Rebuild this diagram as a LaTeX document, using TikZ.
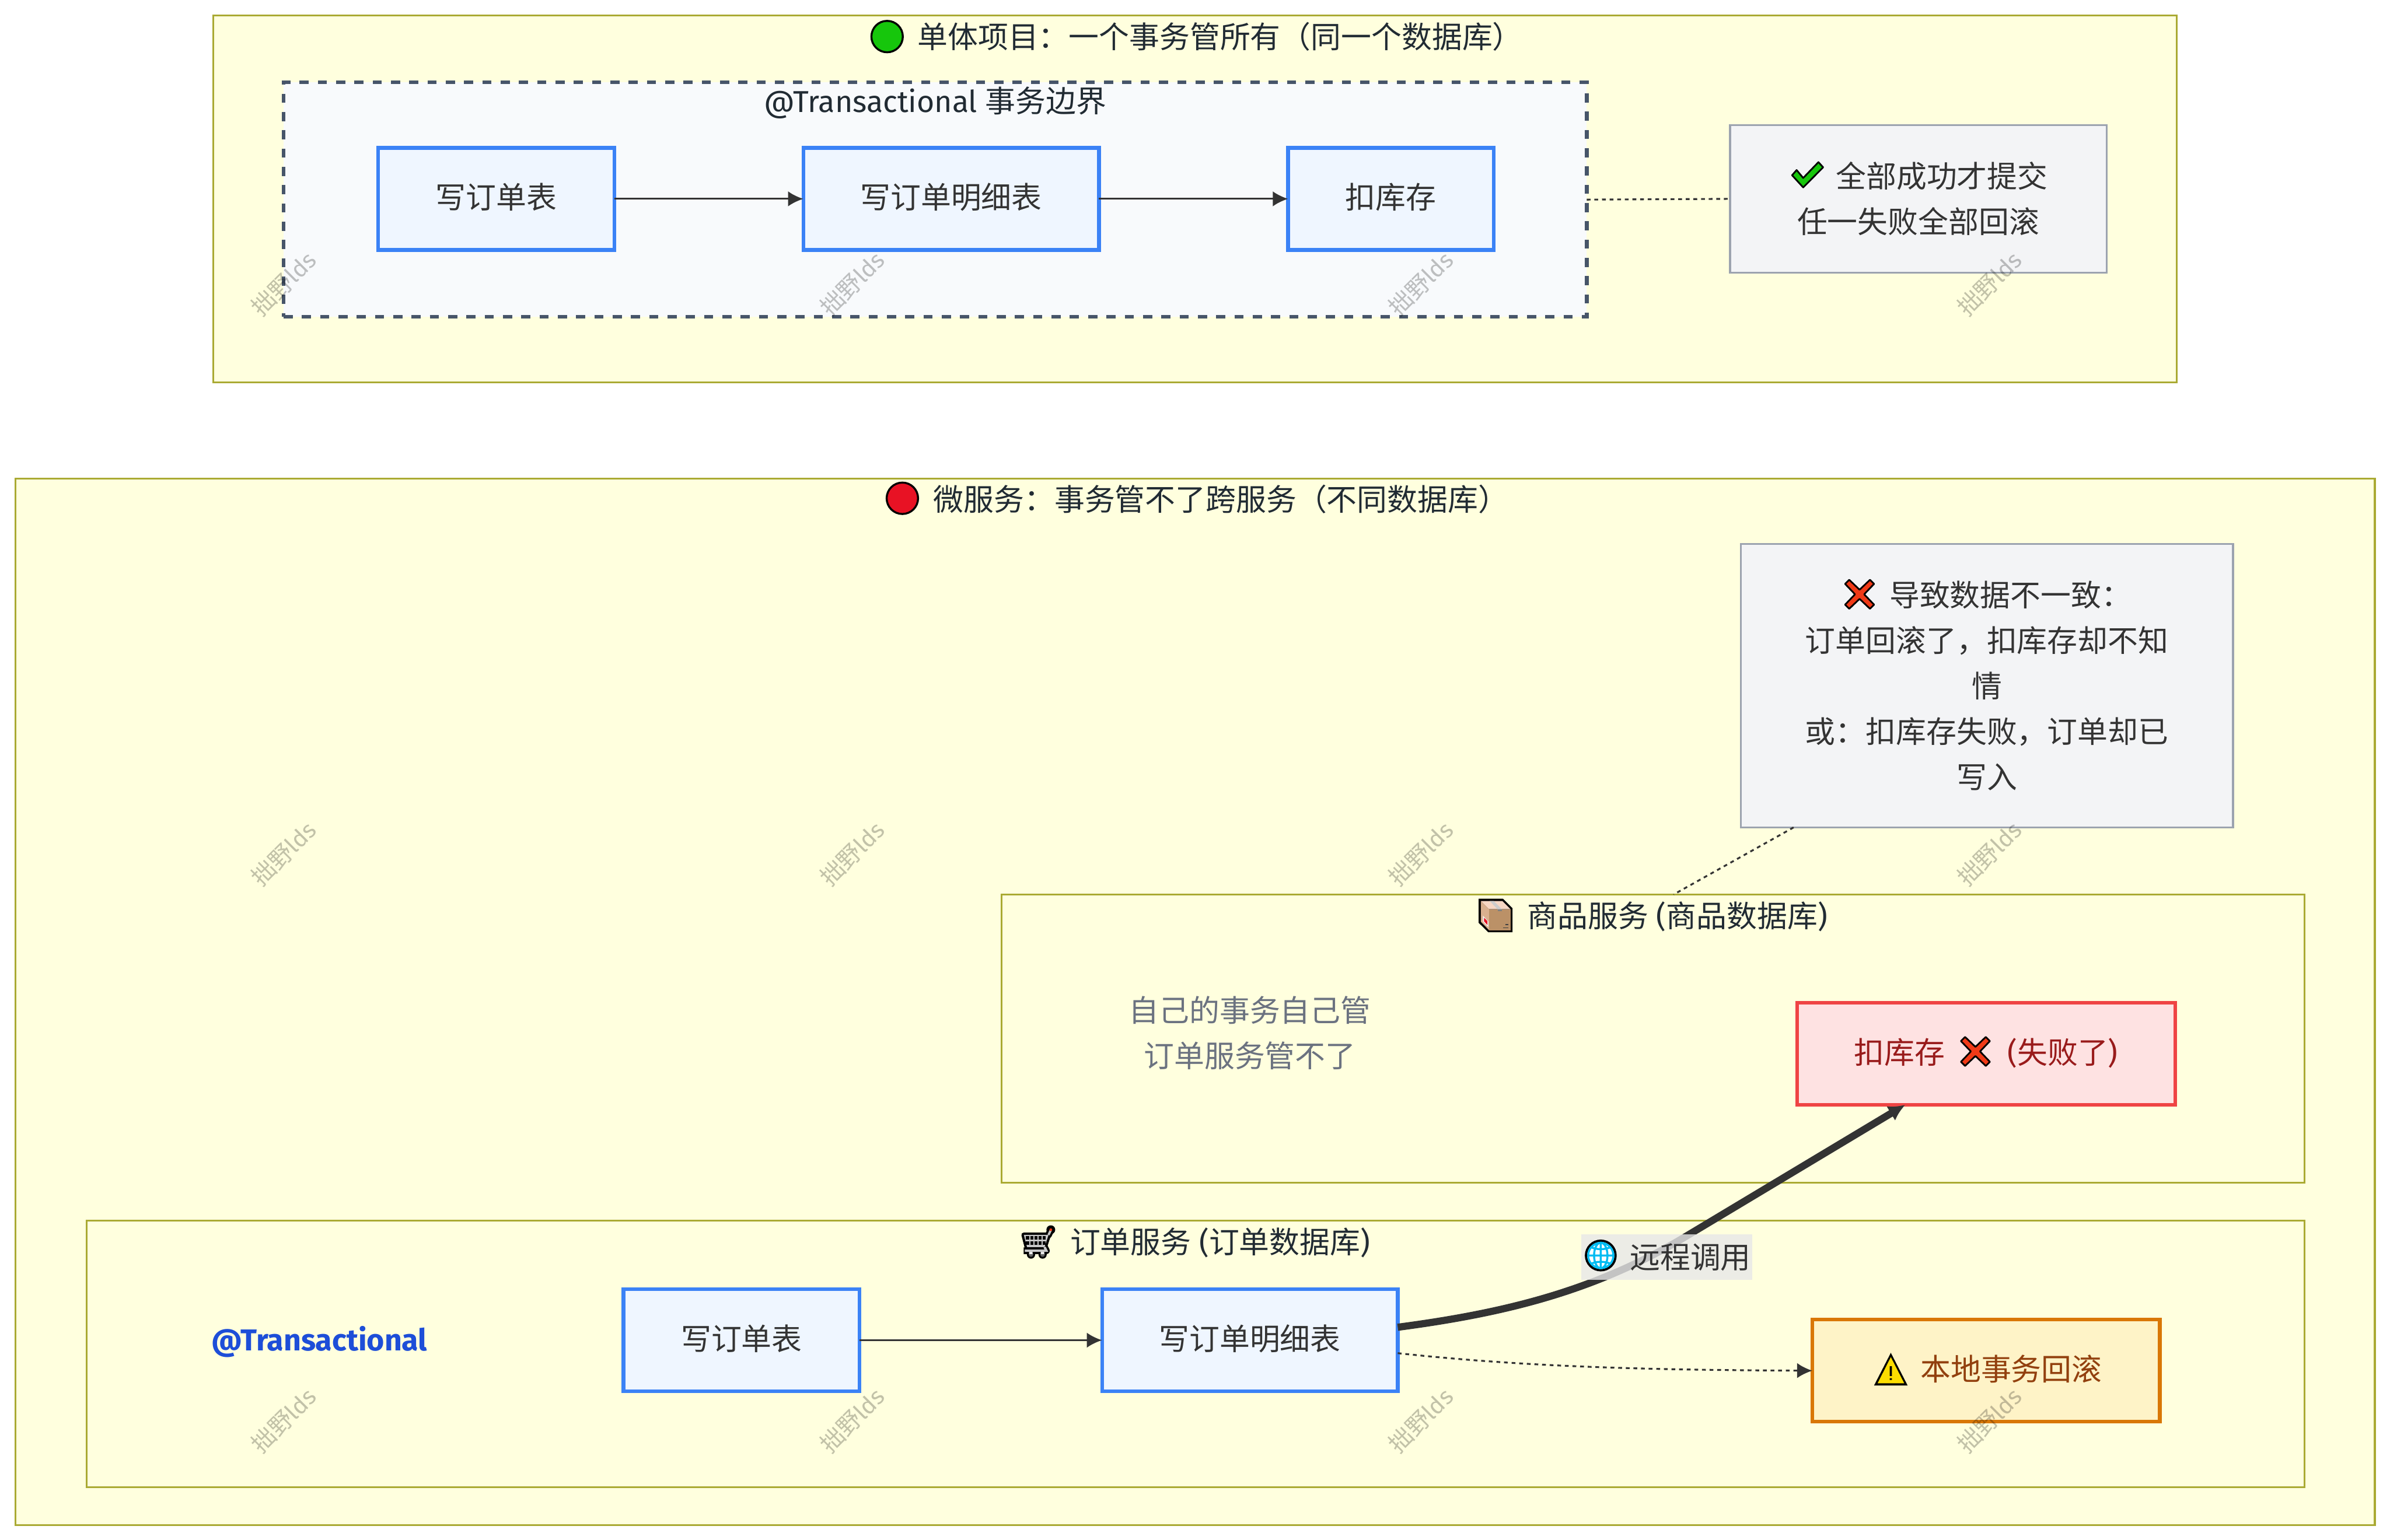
\documentclass[tikz,border=0pt]{standalone}
\usepackage{fontspec}
\setmainfont{Noto Sans CJK SC}
\newfontfamily\lat{Fira Sans}
\usetikzlibrary{arrows.meta}

\definecolor{groupfill}{HTML}{FFFFDE}
\definecolor{groupline}{HTML}{AAAA33}
\definecolor{titleink}{HTML}{212B33}
\definecolor{textink}{HTML}{333333}
\definecolor{boundfill}{HTML}{F8FAFC}
\definecolor{boundline}{HTML}{475569}
\definecolor{stepfill}{HTML}{EFF6FF}
\definecolor{stepline}{HTML}{3B82F6}
\definecolor{notefill}{HTML}{F3F4F6}
\definecolor{noteline}{HTML}{9CA3AF}
\definecolor{failfill}{HTML}{FEE2E2}
\definecolor{failline}{HTML}{EF4444}
\definecolor{failink}{HTML}{991B1B}
\definecolor{warnfill}{HTML}{FEF3C7}
\definecolor{warnline}{HTML}{D97706}
\definecolor{warnink}{HTML}{92400E}
\definecolor{mutedink}{HTML}{6B7280}
\definecolor{annoink}{HTML}{1D4ED8}
\definecolor{labelfill}{HTML}{E8E8E8}
\definecolor{okgreen}{HTML}{16C60C}
\definecolor{badred}{HTML}{F03A17}
\definecolor{badball}{HTML}{E81224}
\definecolor{parceltop}{HTML}{F7D7C4}
\definecolor{parcelside}{HTML}{D9B08F}
\definecolor{parcelfront}{HTML}{BB9167}
\definecolor{netblue}{HTML}{00BCF2}
\definecolor{warnyellow}{HTML}{FCDD00}

% one picture unit is one pixel of the shrunk reference
\newcommand{\px}{0.02cm}

\tikzset{
    every node/.style={font=\fontsize{11.3}{17}\selectfont, inner sep=0pt, outer sep=0pt, text=textink},
    size/.style 2 args={minimum width=#1*\px, minimum height=#2*\px},
    groupbox/.style={draw=groupline, fill=groupfill, line width=1.2*\px},
    boundbox/.style={draw=boundline, fill=boundfill, line width=2.4*\px, dash pattern=on 0.12cm off 0.12cm},
    stepbox/.style={draw=stepline, fill=stepfill, line width=2.4*\px, text depth=0.22em},
    notebox/.style={draw=noteline, fill=notefill, line width=1.2*\px, align=center},
    failbox/.style={draw=failline, fill=failfill, line width=2.4*\px, text=failink, text depth=0.22em},
    warnbox/.style={draw=warnline, fill=warnfill, line width=2.4*\px, text=warnink, text depth=0.22em},
    titletext/.style={text=titleink},
    flow/.style={draw=textink, line width=1.2*\px, -{Latex[length=0.2cm,width=0.2cm]}},
    dotline/.style={draw=textink, line width=1.2*\px, dash pattern=on 0.05cm off 0.05cm},
    mark text/.style={font=\fontsize{8.8}{11}\selectfont, text=black, text opacity=0.24, rotate=45},
    pics/balldot/.style={code={
        \draw[black, fill=#1, line width=1.3*\px] (0,0) circle (10.3);
    }},
    pics/tickmark/.style={code={
        \draw[black, fill=okgreen, line width=1.1*\px, line join=round]
            (-10,0.4) -- (-7,-3) -- (-2.7,2.2) -- (7.3,-8.2) -- (10.4,-4.8) -- (-2.7,8.4) -- cycle;
    }},
    pics/crossmark/.style={code={
        \draw[black, fill=badred, line width=1.1*\px, line join=round]
            (-9.5,-6.8) -- (-6.8,-9.5) -- (0,-3) -- (6.8,-9.5) -- (9.5,-6.8) -- (3,0)
            -- (9.5,6.8) -- (6.8,9.5) -- (0,3) -- (-6.8,9.5) -- (-9.5,6.8) -- (-3,0) -- cycle;
    }},
    pics/parcel/.style={code={
        \fill[black] (-11.1,-11) -- (4.8,-11) -- (11.1,-4.8) -- (11.1,11) -- (-4.8,11) -- (-11.1,4.8) -- cycle;
        \fill[parceltop] (-9.7,-9.5) -- (4.4,-9.5) -- (9.8,-4.1) -- (-4.2,-4.1) -- cycle;
        \fill[parcelside] (-9.7,-9.5) -- (-4.2,-4.1) -- (-4.2,9.7) -- (-9.7,4.1) -- cycle;
        \fill[parcelfront] (-4.2,-4.1) rectangle (9.8,9.7);
        \fill[black!20] (-3.9,-9.5) -- (-1.2,-9.5) -- (4.2,-4.1) -- (1.4,-4.1) -- cycle;
        \fill[black!50] (1.4,-4.1) rectangle (4.2,-2.8);
        \fill[black!5] (-8.3,0.1) -- (-4.8,3.8) -- (-4.8,7.6) -- (-8.3,4) -- cycle;
        \fill[badball] (-7.6,1.5) -- (-5.4,3.6) -- (-5.4,6.2) -- (-7.6,3.8) -- cycle;
        \fill[black!75] (6.3,5.7) rectangle (8.3,6.3);
        \fill[black!75] (4.9,7.7) rectangle (8.3,8.4);
    }},
    pics/cart/.style={code={
        % black halo first, grey frame on top
        \draw[black, fill=black, line width=3.2*\px, line join=round, line cap=round]
            (-9.5,-4.6) -- (6.7,-4.6) -- (4.1,3.4) -- (-7.4,3.4) -- cycle;
        \draw[black, line width=4.4*\px, line cap=round] (6.7,-4.6) -- (8.2,-7.8);
        \draw[black, line width=4.4*\px, line join=round] (-9.6,5.8) -- (5.3,5.8) -- (4.1,3.4);
        \fill[black] (8.2,-8) circle (2.9) (-4.8,8.3) circle (2.7) (2.8,8.3) circle (2.7);
        \fill[black!60] (-4.8,8.3) circle (1.5) (2.8,8.3) circle (1.5);
        \fill[black!8] (-6.1,6.5) rectangle (-3.8,8) (1.6,6.5) rectangle (3.9,8);
        \fill[black!22] (-9.5,-4.6) -- (6.7,-4.6) -- (4.1,3.4) -- (-7.4,3.4) -- cycle;
        \draw[black!22, line width=1.5*\px] (6.7,-4.6) -- (8.2,-7.8);
        \draw[black!22, line width=1.6*\px] (-8.8,5.8) -- (5.3,5.8) -- (4.1,3.4);
        \fill[badred] (8.2,-8) circle (0.9);
        \foreach \cx in {-7.1,-4.3,-1.6,1.2,3.8}
            \foreach \cy in {-2.6,0.8}
                \fill[black] (\cx-1,\cy-1.15) rectangle (\cx+1,\cy+1.15);
    }},
    pics/globe/.style={code={
        \draw[black, fill=white, line width=1.5*\px] (0,0) circle (9.7);
        \draw[netblue, line width=1.3*\px] (0,0) circle (8.3) (0,-8.5) -- (0,8.5) (-8.5,0) -- (8.5,0)
            (0,0) ellipse (4.4 and 8.4)
            (-6.5,-5.5) .. controls (-3,-3.7) and (3,-3.7) .. (6.5,-5.5)
            (-6.5,5.5) .. controls (-3,3.7) and (3,3.7) .. (6.5,5.5);
    }},
    pics/warnsign/.style={code={
        \fill[black] (0,-10.7) -- (11,10.7) -- (-11,10.7) -- cycle;
        \fill[warnyellow] (0,-7.9) -- (8.8,9.3) -- (-8.7,9.3) -- cycle;
        \fill[black] (-0.7,-1.9) rectangle (0.7,4.5) (-0.7,5.9) rectangle (0.7,7.1);
    }},
}

\begin{document}
\begin{tikzpicture}[x=0.02cm, y=-0.02cm]
    \useasboundingbox (0,0) rectangle (1568,1010.6);

    % Groups
    \node[groupbox, size={1288}{241}] (mono) at (784,130.5) {};
    \node[boundbox, size={855}{154}] (bound) at (613.5,131) {};
    \node[groupbox, size={1548}{687}] (micro) at (784,657.5) {};
    \node[groupbox, size={855}{189}] (goods) at (1084.5,681.5) {};
    \node[groupbox, size={1455}{175}] (orders) at (784.5,888.5) {};

    % Group titles
    \node[titletext] (monoTitle) at (800.5,24) {单体项目：一个事务管所有（同一个数据库）};
    \node[titletext] (boundTitle) at (613.5,67.5) {{\lat @Transactional }事务边界};
    \node[titletext] (microTitle) at (801,327.5) {微服务：事务管不了跨服务（不同数据库）};
    \node[titletext] (goodsTitle) at (1100.5,601.5) {商品服务{\lat{} (}商品数据库{\lat )}};
    \node[titletext] (ordersTitle) at (800.5,815.5) {订单服务{\lat{} (}订单数据库{\lat )}};
    \pic at (582,24) {balldot=okgreen};
    \pic at (592,327) {balldot=badball};
    \pic at (981.2,600.8) {parcel};
    \pic at (681.2,815) {cart};

    % Single project
    \node[stepbox, size={155}{67}] (monoOrder) at (325.5,130.5) {写订单表};
    \node[stepbox, size={194}{67}] (monoItems) at (624,130.5) {写订单明细表};
    \node[stepbox, size={135}{67}] (monoStock) at (912.5,130.5) {扣库存};
    \node[notebox, size={247}{97}] (monoNote) at (1258.5,130.5) {\hspace*{0.62cm}全部成功才提交\\任一失败全部回滚};
    \pic at (1185.7,114.6) {tickmark};
    \draw[flow] (monoOrder) -- (monoItems);
    \draw[flow] (monoItems) -- (monoStock);
    \draw[dotline] (bound.east) -- (monoNote.west);

    % Microservices
    \node[notebox, size={323}{186}] (microNote) at (1303.5,450) {\hspace*{0.62cm}导致数据不一致：\\订单回滚了，扣库存却不知\\情\\或：扣库存失败，订单却已\\写入};
    \pic at (1220,390) {crossmark};
    \node[text=mutedink, align=center] (goodsNote) at (820,678) {自己的事务自己管\\订单服务管不了};
    \node[failbox, size={248}{67}] (goodsStock) at (1303,691.5) {扣库存\hspace{0.82cm}{\lat (}失败了{\lat )}};
    \pic at (1296,690) {crossmark};
    \node[text=annoink, font=\fontsize{11.3}{17}\selectfont\lat\bfseries] (ordersAnno) at (209.5,880.5) {@Transactional};
    \node[stepbox, size={155}{67}] (ordersOrder) at (486.5,879.5) {写订单表};
    \node[stepbox, size={194}{67}] (ordersItems) at (820,879.5) {写订单明细表};
    \node[warnbox, size={228}{67}] (ordersRoll) at (1303,899.5) {\hspace*{0.66cm}本地事务回滚};
    \pic at (1240.5,898.5) {warnsign};

    \draw[flow] (ordersOrder) -- (ordersItems);
    \draw[dotline] ([xshift=34.7*\px]microNote.south west) -- ([xshift=441*\px]goods.north west);
    \draw[dotline, -{Latex[length=0.2cm,width=0.2cm]}] ([yshift=-8.5*\px]ordersItems.east)
        .. controls (1000,897) and (1080,899) .. (ordersRoll.west);
    \draw[draw=textink, line width=4.7*\px, -{Latex[length=0.22cm,width=0.22cm]}] ([yshift=8.5*\px]ordersItems.east)
        .. controls (985,862) and (1045,848) .. (1105,812) -- ([xshift=-53*\px]goodsStock.south);

    % Edge label
    \node[fill=labelfill, fill opacity=0.8, text opacity=1, size={112}{30}] (callLabel) at (1093.5,825) {\hspace*{0.62cm}远程调用};
    \pic at (1050.2,823.9) {globe};

    % Watermark
    \foreach \wx in {186,559,932,1305}
        \foreach \wy in {186,560,932}
            \node[mark text] (mark\wx\wy) at (\wx,\wy) {拙野{\lat lds}};
\end{tikzpicture}
\end{document}
